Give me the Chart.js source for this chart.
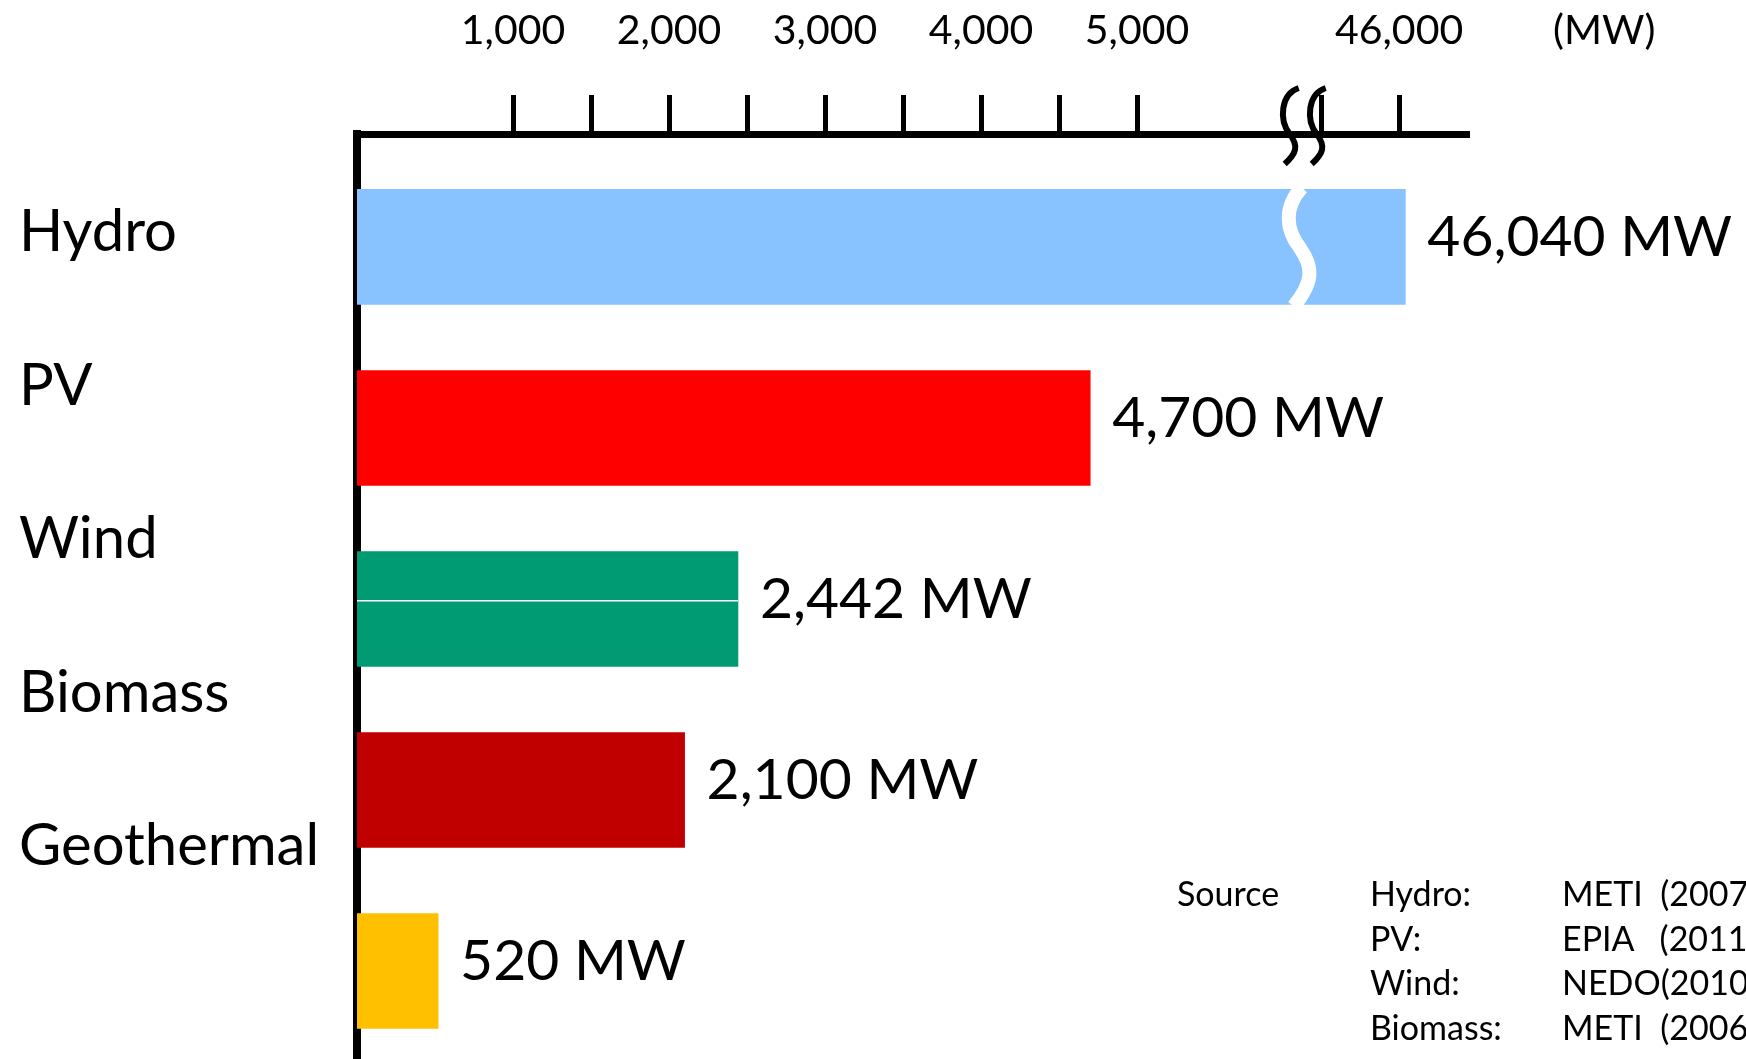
<!DOCTYPE html>
<html>
<head>
<meta charset="utf-8">
<title>Installed capacity</title>
<script src="https://cdn.jsdelivr.net/npm/chart.js@4"></script>
<style>
  html, body { margin: 0; padding: 0; background: #fff; overflow: hidden; }
  #wrap { position: relative; width: 1746px; height: 1059px; font-family: Lato, sans-serif; color: #000; overflow: hidden; }
  #myChart { position: absolute; left: 0; top: 0; }
  #cats { position: absolute; left: 19px; top: 152px; }
  #cats div { font-size: 58px; line-height: 153.5px; height: 153.5px; white-space: nowrap; }
  #unit { position: absolute; left: 1553px; top: 4px; font-size: 41px; line-height: 50px; white-space: nowrap; }
  #source { position: absolute; left: 1177px; top: 871px; font-size: 34px; line-height: 44.6px; white-space: pre; }
  #source .row { position: relative; height: 44.6px; }
  #source span { position: absolute; top: 0; }
</style>
</head>
<body>
<div id="wrap">
  <canvas id="myChart" width="1746" height="1059"></canvas>
  <div id="cats"></div>
  <div id="unit">(MW)</div>
  <div id="source"></div>
</div>
<script>
// capacity per energy source, in MW
const categories = ['Hydro', 'PV', 'Wind', 'Biomass', 'Geothermal'];
const capacityMW = [46040, 4700, 2442, 2100, 520];
const barColors = ['#88C2FF', '#FF0000', '#009A73', '#C00000', '#FFC000'];

// top axis: tick marks every 500 MW, labels every 1000 MW, broken before 46,000
const tickMW = [1000, 1500, 2000, 2500, 3000, 3500, 4000, 4500, 5000, 45500, 46000];
const tickLabelMW = [1000, 2000, 3000, 4000, 5000, 46000];

const sourceNames = ['Hydro:', 'PV:', 'Wind:', 'Biomass:'];
const sourceRefs = ['METI  (2007)', 'EPIA   (2011)', 'NEDO(2010)', 'METI  (2006)'];

// axis break: values above the gap are shifted down by this amount
const gapShift = 39320;
const breakAt = 6030;
function toAxis(v) { return v > 10000 ? v - gapShift : v; }
function fromAxis(a) { return a > breakAt ? a + gapShift : a; }

document.getElementById('cats').innerHTML = categories.map(c => `<div>${c}</div>`).join('');
document.getElementById('source').innerHTML = sourceNames.map((n, i) =>
  `<div class="row">${i == 0 ? '<span style="left:0">Source</span>' : ''}` +
  `<span style="left:193px">${n}</span><span style="left:385px">${sourceRefs[i]}</span></div>`
).join('');

const valueLabels = {
  id: 'valueLabels',
  afterDatasetsDraw(chart) {
    const ctx = chart.ctx;
    const meta = chart.getDatasetMeta(0);
    ctx.save();
    // white seam across the wind bar
    const w = meta.data[2];
    ctx.fillStyle = '#fff';
    ctx.fillRect(w.base, w.y - 9, w.x - w.base, 1.5);
    // wavy cut through the hydro bar at the axis break
    const h = meta.data[0];
    const c = chart.scales.x.getPixelForValue(breakAt);
    const top = h.y - h.height / 2, bot = h.y + h.height / 2;
    ctx.strokeStyle = '#fff';
    ctx.lineWidth = 14;
    ctx.beginPath();
    ctx.moveTo(c + 4, top - 2);
    ctx.bezierCurveTo(c - 14, top + 18, c - 12, top + 40, c + 2, top + 58);
    ctx.bezierCurveTo(c + 16, top + 78, c + 16, top + 92, c - 4, bot + 2);
    ctx.stroke();
    // value labels
    ctx.font = '57px Lato';
    ctx.fillStyle = '#000';
    ctx.textAlign = 'left';
    ctx.textBaseline = 'alphabetic';
    meta.data.forEach((bar, i) => {
      ctx.fillText(capacityMW[i].toLocaleString('en-US') + ' MW', bar.x + 22, bar.y + 9);
    });
    ctx.restore();
  }
};

const axisBreak = {
  id: 'axisBreak',
  afterDraw(chart) {
    const ctx = chart.ctx;
    const x = chart.scales.x;
    const c = x.getPixelForValue(breakAt);
    const y = chart.chartArea.top;
    ctx.save();
    ctx.strokeStyle = '#000';
    ctx.lineWidth = 6;
    ctx.lineCap = 'butt';
    for (const cx of [c - 8, c + 19]) {
      ctx.beginPath();
      ctx.moveTo(cx + 9, y - 46);
      ctx.bezierCurveTo(cx - 9, y - 40, cx - 11, y - 14, cx, y);
      ctx.bezierCurveTo(cx + 9, y + 12, cx + 7, y + 19, cx - 5, y + 30);
      ctx.stroke();
    }
    ctx.restore();
  }
};

new Chart(document.getElementById('myChart'), {
  type: 'bar',
  data: {
    datasets: [{
      data: capacityMW.map((v, i) => ({ x: toAxis(v), y: i })),
      backgroundColor: barColors,
      borderWidth: 0,
      barThickness: 115
    }]
  },
  options: {
    indexAxis: 'y',
    responsive: false,
    animation: false,
    events: [],
    layout: { padding: { left: 357, right: 277, top: 0, bottom: 0 } },
    plugins: { legend: { display: false }, tooltip: { enabled: false } },
    scales: {
      x: {
        type: 'linear',
        position: 'top',
        min: 0,
        max: 7128,
        afterBuildTicks: (s) => { s.ticks = tickMW.map(v => ({ value: toAxis(v) })); },
        afterFit: (s) => { s.height = 134; },
        grid: { drawOnChartArea: false, drawTicks: true, tickLength: 39, tickWidth: 5, tickColor: '#000' },
        border: { display: true, color: '#000', width: 7 },
        ticks: {
          autoSkip: false,
          maxRotation: 0,
          padding: 40,
          color: '#000',
          font: { family: 'Lato', size: 41 },
          callback: (val) => {
            const mw = fromAxis(val);
            return tickLabelMW.includes(mw) ? mw.toLocaleString('en-US') : '';
          }
        }
      },
      y: {
        type: 'linear',
        reverse: true,
        offset: false,
        bounds: 'data',
        min: -0.624,
        max: 4.486,
        z: 1,
        afterFit: (s) => { s.width = 0; },
        grid: { display: false, offset: false },
        border: { display: true, color: '#000', width: 8 },
        ticks: { display: false }
      }
    }
  },
  plugins: [valueLabels, axisBreak]
});
</script>
</body>
</html>
